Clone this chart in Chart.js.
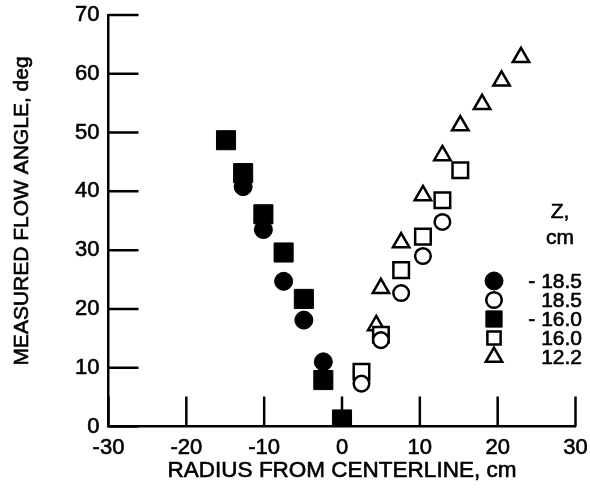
<!DOCTYPE html>
<html>
<head>
<meta charset="utf-8">
<script src="https://cdn.jsdelivr.net/npm/chart.js"></script>
<style>
  html, body { margin: 0; padding: 0; background: #fff; }
  #wrap { width: 590px; height: 495px; }
</style>
</head>
<body>
<div id="wrap"><canvas id="flowChart" width="590" height="495"></canvas></div>
<script>
// tick values
const xTickValues = [-30, -20, -10, 0, 10, 20, 30];
const yTickValues = [0, 10, 20, 30, 40, 50, 60, 70];

// series, Z = -18.5 cm (filled circle)
const negZ185X = [-12.7, -10.1, -7.5, -4.9, -2.4, 0.0];
const negZ185Y = [40.8, 33.5, 24.7, 18.1, 11.0, 0.3];

// Z = 18.5 cm (open circle)
const z185X = [2.5, 5.0, 7.6, 10.4, 12.9];
const z185Y = [7.3, 14.7, 22.7, 29.0, 34.8];

// Z = -16.0 cm (filled square)
const negZ160X = [-14.9, -12.7, -10.1, -7.5, -4.9, -2.4, 0.0];
const negZ160Y = [48.7, 43.1, 36.1, 29.6, 21.7, 7.9, 1.2];

// Z = 16.0 cm (open square)
const z160X = [2.5, 5.0, 7.6, 10.4, 12.9, 15.2];
const z160Y = [9.3, 15.6, 26.6, 32.3, 38.5, 43.6];

// Z = 12.2 cm (open triangle)
const z122X = [4.4, 5.0, 7.6, 10.4, 12.9, 15.2, 18.0, 20.5, 23.0];
const z122Y = [17.2, 23.5, 31.3, 39.3, 46.1, 51.2, 54.8, 58.8, 62.8];

const seriesLabels = ['- 18.5', '18.5', '- 16.0', '16.0', '12.2'];
const legendTitle = ['Z,', 'cm'];
const xTitle = 'RADIUS FROM CENTERLINE, cm';
const yTitle = 'MEASURED FLOW ANGLE, deg';

const FONT = '"Liberation Sans", Arial, Helvetica, sans-serif';
const INK = 0.6; // slight stroke so the text looks as heavy as the scan

function toPoints(xs, ys) {
  return xs.map((x, i) => ({ x: x, y: ys[i] }));
}

function makeDataset(label, xs, ys, style, radius, filled) {
  return {
    label: label,
    data: toPoints(xs, ys),
    pointStyle: style,
    pointRadius: radius,
    pointBackgroundColor: filled ? '#000' : '#fff',
    pointBorderColor: '#000',
    pointBorderWidth: filled ? 1 : 2.5,
    showLine: false
  };
}

const datasets = [
  makeDataset(seriesLabels[0], negZ185X, negZ185Y, 'circle', 9, true),
  makeDataset(seriesLabels[1], z185X, z185Y, 'circle', 7.8, false),
  makeDataset(seriesLabels[2], negZ160X, negZ160Y, 'rect', 13.5, true),
  makeDataset(seriesLabels[3], z160X, z160Y, 'rect', 11, false),
  makeDataset(seriesLabels[4], z122X, z122Y, 'triangle', 9.5, false)
];

function inkText(ctx, text, x, y) {
  ctx.fillText(text, x, y);
  ctx.strokeText(text, x, y);
}

// inward tick marks, drawn under the symbols
const tickMarks = {
  id: 'tickMarks',
  beforeDatasetsDraw(chart) {
    const { ctx, chartArea, scales } = chart;
    const len = 30;
    ctx.save();
    ctx.strokeStyle = '#000';
    ctx.lineWidth = 2.5;
    ctx.beginPath();
    xTickValues.forEach(v => {
      const px = scales.x.getPixelForValue(v);
      ctx.moveTo(px, chartArea.bottom);
      ctx.lineTo(px, chartArea.bottom - len);
    });
    yTickValues.forEach(v => {
      const py = scales.y.getPixelForValue(v);
      ctx.moveTo(chartArea.left, py);
      ctx.lineTo(chartArea.left + len, py);
    });
    ctx.stroke();
    ctx.restore();
  }
};

// axis titles and the legend box inside the plot
const annotations = {
  id: 'annotations',
  afterDraw(chart) {
    const { ctx, chartArea } = chart;
    ctx.save();
    ctx.fillStyle = '#000';
    ctx.strokeStyle = '#000';
    ctx.lineWidth = INK;

    ctx.font = '22.5px ' + FONT;
    ctx.textAlign = 'center';
    ctx.textBaseline = 'middle';
    inkText(ctx, xTitle, (chartArea.left + chartArea.right) / 2, 471);

    ctx.save();
    ctx.translate(22, 211);
    ctx.rotate(-Math.PI / 2);
    ctx.font = '21px ' + FONT;
    inkText(ctx, yTitle, 0, 0);
    ctx.restore();

    ctx.font = '21px ' + FONT;
    inkText(ctx, legendTitle[0], 560, 212);
    inkText(ctx, legendTitle[1], 560, 238);

    const rowY = [281, 300, 319, 338, 357];
    chart.data.datasets.forEach((ds, i) => {
      ctx.fillStyle = ds.pointBackgroundColor;
      ctx.strokeStyle = ds.pointBorderColor;
      ctx.lineWidth = ds.pointBorderWidth;
      const r = ds.pointStyle === 'rect' ? ds.pointRadius * 0.85 : ds.pointRadius;
      Chart.helpers.drawPoint(ctx, {
        pointStyle: ds.pointStyle,
        radius: r,
        borderWidth: ds.pointBorderWidth,
        rotation: 0
      }, 494, rowY[i]);
      ctx.fillStyle = '#000';
      ctx.strokeStyle = '#000';
      ctx.lineWidth = INK;
      ctx.textAlign = 'right';
      inkText(ctx, ds.label, 582, rowY[i] + 1);
    });
    ctx.restore();
  }
};

const ctx = document.getElementById('flowChart').getContext('2d');
new Chart(ctx, {
  type: 'scatter',
  data: { datasets: datasets },
  options: {
    responsive: false,
    animation: false,
    events: [],
    layout: {
      padding: { top: 15, right: 11, left: 0, bottom: 0 }
    },
    scales: {
      x: {
        type: 'linear',
        min: -30,
        max: 30,
        afterFit(scale) {
          scale.height = 68.5;
          scale.paddingLeft = 0;
          scale.paddingRight = 0;
        },
        afterBuildTicks(scale) { scale.ticks = xTickValues.map(v => ({ value: v })); },
        grid: { display: false, drawTicks: false },
        border: { display: true, color: '#000', width: 2.5 },
        ticks: {
          padding: 8,
          color: '#000',
          textStrokeColor: '#000',
          textStrokeWidth: INK,
          font: { family: FONT, size: 22 },
          maxRotation: 0
        }
      },
      y: {
        type: 'linear',
        min: 0,
        max: 70,
        afterFit(scale) {
          scale.width = 108.5;
          scale.paddingTop = 0;
          scale.paddingBottom = 0;
        },
        afterBuildTicks(scale) { scale.ticks = yTickValues.map(v => ({ value: v })); },
        grid: { display: false, drawTicks: false },
        border: { display: true, color: '#000', width: 2.5 },
        ticks: {
          padding: 9,
          color: '#000',
          textStrokeColor: '#000',
          textStrokeWidth: INK,
          font: { family: FONT, size: 22 }
        }
      }
    },
    plugins: {
      legend: { display: false },
      title: { display: false },
      tooltip: { enabled: false }
    }
  },
  plugins: [tickMarks, annotations]
});
</script>
</body>
</html>
